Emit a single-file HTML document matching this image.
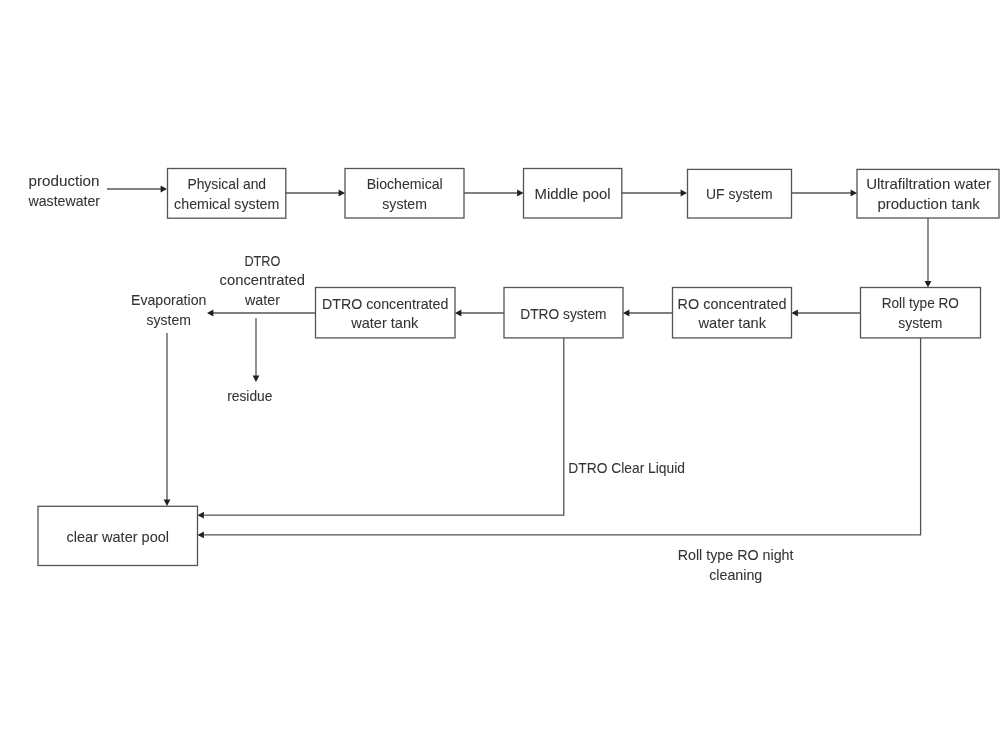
<!DOCTYPE html><html><head><meta charset="utf-8"><style>html,body{margin:0;padding:0;background:#fff;width:1000px;height:750px;overflow:hidden}svg{display:block;filter:blur(0.45px)}text{font-family:"Liberation Sans",sans-serif;font-size:14.5px;fill:#333333;stroke:#333;stroke-width:0.06px}</style></head><body>
<svg width="1000" height="750" viewBox="0 0 1000 750">
<rect x="0" y="0" width="1000" height="750" fill="#fff"/>
<rect x="167.50" y="168.50" width="118.30" height="49.70" fill="none" stroke="#545454" stroke-width="1.30"/>
<rect x="345.00" y="168.50" width="119.00" height="49.50" fill="none" stroke="#545454" stroke-width="1.30"/>
<rect x="523.50" y="168.50" width="98.30" height="49.50" fill="none" stroke="#545454" stroke-width="1.30"/>
<rect x="687.50" y="169.40" width="104.00" height="48.60" fill="none" stroke="#545454" stroke-width="1.30"/>
<rect x="857.00" y="169.40" width="142.00" height="48.60" fill="none" stroke="#545454" stroke-width="1.30"/>
<rect x="860.50" y="287.50" width="120.00" height="50.40" fill="none" stroke="#545454" stroke-width="1.30"/>
<rect x="672.50" y="287.50" width="119.00" height="50.40" fill="none" stroke="#545454" stroke-width="1.30"/>
<rect x="504.00" y="287.50" width="119.00" height="50.40" fill="none" stroke="#545454" stroke-width="1.30"/>
<rect x="315.50" y="287.50" width="139.50" height="50.40" fill="none" stroke="#545454" stroke-width="1.30"/>
<rect x="38.00" y="506.30" width="159.50" height="59.20" fill="none" stroke="#545454" stroke-width="1.30"/>
<polyline points="107.00,189.00 161.88,189.00" fill="none" stroke="#545454" stroke-width="1.30"/>
<polygon points="167.00,189.00 160.60,192.40 160.60,185.60" fill="#222222"/>
<polyline points="285.50,193.00 339.88,193.00" fill="none" stroke="#545454" stroke-width="1.30"/>
<polygon points="345.00,193.00 338.60,196.40 338.60,189.60" fill="#222222"/>
<polyline points="464.00,193.00 518.38,193.00" fill="none" stroke="#545454" stroke-width="1.30"/>
<polygon points="523.50,193.00 517.10,196.40 517.10,189.60" fill="#222222"/>
<polyline points="622.00,193.00 681.88,193.00" fill="none" stroke="#545454" stroke-width="1.30"/>
<polygon points="687.00,193.00 680.60,196.40 680.60,189.60" fill="#222222"/>
<polyline points="791.50,193.00 851.88,193.00" fill="none" stroke="#545454" stroke-width="1.30"/>
<polygon points="857.00,193.00 850.60,196.40 850.60,189.60" fill="#222222"/>
<polyline points="928.00,218.00 928.00,282.38" fill="none" stroke="#545454" stroke-width="1.30"/>
<polygon points="928.00,287.50 924.60,281.10 931.40,281.10" fill="#222222"/>
<polyline points="860.50,313.00 796.62,313.00" fill="none" stroke="#545454" stroke-width="1.30"/>
<polygon points="791.50,313.00 797.90,309.60 797.90,316.40" fill="#222222"/>
<polyline points="672.50,313.00 628.12,313.00" fill="none" stroke="#545454" stroke-width="1.30"/>
<polygon points="623.00,313.00 629.40,309.60 629.40,316.40" fill="#222222"/>
<polyline points="504.00,313.00 460.12,313.00" fill="none" stroke="#545454" stroke-width="1.30"/>
<polygon points="455.00,313.00 461.40,309.60 461.40,316.40" fill="#222222"/>
<polyline points="315.50,313.00 212.12,313.00" fill="none" stroke="#545454" stroke-width="1.30"/>
<polygon points="207.00,313.00 213.40,309.60 213.40,316.40" fill="#222222"/>
<polyline points="256.00,318.00 256.00,376.88" fill="none" stroke="#545454" stroke-width="1.30"/>
<polygon points="256.00,382.00 252.60,375.60 259.40,375.60" fill="#222222"/>
<polyline points="167.00,333.00 167.00,500.88" fill="none" stroke="#545454" stroke-width="1.30"/>
<polygon points="167.00,506.00 163.60,499.60 170.40,499.60" fill="#222222"/>
<polyline points="563.80,337.90 563.80,515.20 202.62,515.20" fill="none" stroke="#545454" stroke-width="1.30"/>
<polygon points="197.50,515.20 203.90,511.80 203.90,518.60" fill="#222222"/>
<polyline points="920.60,337.90 920.60,534.90 202.62,534.90" fill="none" stroke="#545454" stroke-width="1.30"/>
<polygon points="197.50,534.90 203.90,531.50 203.90,538.30" fill="#222222"/>
<text x="28.50" y="186.30" textLength="71.00" lengthAdjust="spacingAndGlyphs">production</text>
<text x="28.50" y="206.30" textLength="71.50" lengthAdjust="spacingAndGlyphs">wastewater</text>
<text x="187.40" y="189.30" textLength="78.70" lengthAdjust="spacingAndGlyphs">Physical and</text>
<text x="174.10" y="208.90" textLength="105.30" lengthAdjust="spacingAndGlyphs">chemical system</text>
<text x="366.70" y="189.30" textLength="76.00" lengthAdjust="spacingAndGlyphs">Biochemical</text>
<text x="382.30" y="208.90" textLength="44.60" lengthAdjust="spacingAndGlyphs">system</text>
<text x="534.50" y="198.80" textLength="76.10" lengthAdjust="spacingAndGlyphs">Middle pool</text>
<text x="706.00" y="199.30" textLength="66.60" lengthAdjust="spacingAndGlyphs">UF system</text>
<text x="866.20" y="189.30" textLength="124.80" lengthAdjust="spacingAndGlyphs">Ultrafiltration water</text>
<text x="877.40" y="208.50" textLength="102.30" lengthAdjust="spacingAndGlyphs">production tank</text>
<text x="881.70" y="308.30" textLength="77.30" lengthAdjust="spacingAndGlyphs">Roll type RO</text>
<text x="898.30" y="328.30" textLength="44.10" lengthAdjust="spacingAndGlyphs">system</text>
<text x="677.60" y="308.70" textLength="108.90" lengthAdjust="spacingAndGlyphs">RO concentrated</text>
<text x="698.50" y="328.20" textLength="67.50" lengthAdjust="spacingAndGlyphs">water tank</text>
<text x="520.30" y="318.50" textLength="86.20" lengthAdjust="spacingAndGlyphs">DTRO system</text>
<text x="322.00" y="308.50" textLength="126.30" lengthAdjust="spacingAndGlyphs">DTRO concentrated</text>
<text x="351.25" y="328.30" textLength="67.05" lengthAdjust="spacingAndGlyphs">water tank</text>
<text x="244.40" y="265.90" textLength="36.00" lengthAdjust="spacingAndGlyphs">DTRO</text>
<text x="219.60" y="285.30" textLength="85.40" lengthAdjust="spacingAndGlyphs">concentrated</text>
<text x="245.00" y="305.30" textLength="35.00" lengthAdjust="spacingAndGlyphs">water</text>
<text x="131.00" y="305.30" textLength="75.40" lengthAdjust="spacingAndGlyphs">Evaporation</text>
<text x="146.60" y="325.30" textLength="44.40" lengthAdjust="spacingAndGlyphs">system</text>
<text x="227.20" y="400.80" textLength="45.30" lengthAdjust="spacingAndGlyphs">residue</text>
<text x="66.50" y="541.70" textLength="102.60" lengthAdjust="spacingAndGlyphs">clear water pool</text>
<text x="568.30" y="472.80" textLength="116.70" lengthAdjust="spacingAndGlyphs">DTRO Clear Liquid</text>
<text x="677.70" y="560.30" textLength="115.80" lengthAdjust="spacingAndGlyphs">Roll type RO night</text>
<text x="709.20" y="579.80" textLength="53.10" lengthAdjust="spacingAndGlyphs">cleaning</text>
</svg></body></html>
